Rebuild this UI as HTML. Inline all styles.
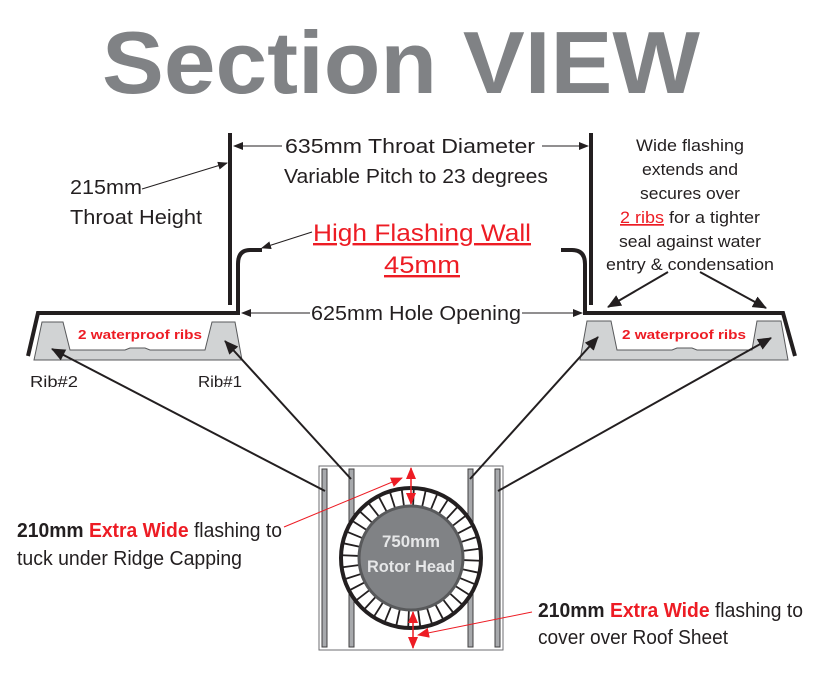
<!DOCTYPE html>
<html><head><meta charset="utf-8"><style>
html,body{margin:0;padding:0;background:#fff}
svg{display:block}
text{font-family:"Liberation Sans Narrow","Liberation Sans",sans-serif}
</style></head><body>
<svg width="825" height="682" viewBox="0 0 825 682" xmlns="http://www.w3.org/2000/svg">
<defs>
<marker id="ab" markerWidth="10" markerHeight="8" refX="9" refY="4" orient="auto" markerUnits="userSpaceOnUse"><path d="M0,0 L10,4 L0,8 Z" fill="#231f20"/></marker>
<marker id="abL" markerWidth="14" markerHeight="12" refX="13" refY="6" orient="auto" markerUnits="userSpaceOnUse"><path d="M0,0 L14,6 L0,12 Z" fill="#231f20"/></marker>
<marker id="ar" markerWidth="12" markerHeight="10" refX="11" refY="5" orient="auto" markerUnits="userSpaceOnUse"><path d="M0,0 L12,5 L0,10 Z" fill="#ed1c24"/></marker>
<marker id="ars" markerWidth="12" markerHeight="10" refX="1" refY="5" orient="auto" markerUnits="userSpaceOnUse"><path d="M12,0 L0,5 L12,10 Z" fill="#ed1c24"/></marker>
</defs>

<text x="102" y="93" font-size="88" font-weight="bold" fill="#808285" textLength="598" lengthAdjust="spacingAndGlyphs" style="font-family:'Liberation Sans',sans-serif">Section VIEW</text>

<!-- left wall & flashing -->
<line x1="230" y1="133" x2="230" y2="305" stroke="#231f20" stroke-width="4"/>
<path d="M262 250 L250 250 Q238 250 238 264 L238 313 L38 313 L28 356" fill="none" stroke="#231f20" stroke-width="4"/>
<path d="M42 322 L63 322 L70 350 L125 350 L130 348 L145 348 L150 350 L205 350 L212 322 L235 322 L242 360 L34 360 Z" fill="#d1d3d4" stroke="#58595b" stroke-width="1"/>
<text x="140" y="339" font-size="13" font-weight="bold" fill="#ed1c24" text-anchor="middle" textLength="124" lengthAdjust="spacingAndGlyphs">2 waterproof ribs</text>

<!-- right wall & flashing -->
<line x1="591" y1="133" x2="591" y2="305" stroke="#231f20" stroke-width="4"/>
<path d="M561 250 L572 250 Q585 250 585 264 L585 313 L783 313 L795 356" fill="none" stroke="#231f20" stroke-width="4"/>
<path d="M587 321 L611 321 L617 350 L672 350 L677 348 L692 348 L697 350 L752 350 L757 321 L781 321 L788 360 L580 360 Z" fill="#d1d3d4" stroke="#58595b" stroke-width="1"/>
<text x="684" y="339" font-size="13" font-weight="bold" fill="#ed1c24" text-anchor="middle" textLength="124" lengthAdjust="spacingAndGlyphs">2 waterproof ribs</text>

<!-- dimension arrows -->
<line x1="282" y1="146" x2="234" y2="146" stroke="#231f20" stroke-width="1" marker-end="url(#ab)"/>
<line x1="542" y1="146" x2="588" y2="146" stroke="#231f20" stroke-width="1" marker-end="url(#ab)"/>
<line x1="310" y1="313" x2="242" y2="313" stroke="#231f20" stroke-width="1" marker-end="url(#ab)"/>
<line x1="522" y1="313" x2="582" y2="313" stroke="#231f20" stroke-width="1" marker-end="url(#ab)"/>
<line x1="142" y1="189" x2="227" y2="163" stroke="#231f20" stroke-width="1" marker-end="url(#ab)"/>
<line x1="312" y1="232" x2="262" y2="248" stroke="#231f20" stroke-width="1" marker-end="url(#ab)"/>
<line x1="668" y1="272" x2="608" y2="307" stroke="#231f20" stroke-width="2" marker-end="url(#abL)"/>
<line x1="700" y1="272" x2="766" y2="308" stroke="#231f20" stroke-width="2" marker-end="url(#abL)"/>

<g fill="#231f20" font-size="20">
<text x="410" y="153" text-anchor="middle" textLength="250" lengthAdjust="spacingAndGlyphs">635mm Throat Diameter</text>
<text x="416" y="183" text-anchor="middle" textLength="264" lengthAdjust="spacingAndGlyphs">Variable Pitch to 23 degrees</text>
<text x="70" y="194" textLength="72" lengthAdjust="spacingAndGlyphs">215mm</text>
<text x="70" y="224" textLength="132" lengthAdjust="spacingAndGlyphs">Throat Height</text>
<text x="416" y="320" text-anchor="middle" textLength="210" lengthAdjust="spacingAndGlyphs">625mm Hole Opening</text>
<text x="30" y="387" font-size="16" textLength="48" lengthAdjust="spacingAndGlyphs">Rib#2</text>
<text x="198" y="387" font-size="16" textLength="44" lengthAdjust="spacingAndGlyphs">Rib#1</text>
</g>
<g fill="#ed1c24" font-size="24">
<text x="422" y="241" text-anchor="middle" textLength="218" lengthAdjust="spacingAndGlyphs" text-decoration="underline">High Flashing Wall</text>
<text x="422" y="273" text-anchor="middle" textLength="76" lengthAdjust="spacingAndGlyphs" text-decoration="underline">45mm</text>
</g>
<g fill="#231f20" font-size="17" text-anchor="middle">
<text x="690" y="151" textLength="108" lengthAdjust="spacingAndGlyphs">Wide flashing</text>
<text x="690" y="175" textLength="96" lengthAdjust="spacingAndGlyphs">extends and</text>
<text x="690" y="199" textLength="100" lengthAdjust="spacingAndGlyphs">secures over</text>
<text x="690" y="223" textLength="140" lengthAdjust="spacingAndGlyphs"><tspan fill="#ed1c24" text-decoration="underline">2 ribs</tspan> for a tighter</text>
<text x="690" y="247" textLength="142" lengthAdjust="spacingAndGlyphs">seal against water</text>
<text x="690" y="270" textLength="168" lengthAdjust="spacingAndGlyphs">entry &amp; condensation</text>
</g>

<!-- plan view box -->
<rect x="319" y="466" width="184" height="184" fill="#fff" stroke="#6d6e71" stroke-width="1"/>
<g fill="#a7a9ac" stroke="#414042" stroke-width="1">
<rect x="322" y="469" width="5" height="178"/>
<rect x="349" y="469" width="5" height="178"/>
<rect x="468" y="469" width="5" height="178"/>
<rect x="495" y="469" width="5" height="178"/>
</g>
<circle cx="411" cy="558" r="70" fill="#fff" stroke="#231f20" stroke-width="4"/>
<g id="spokes" stroke="#231f20" stroke-width="1.8"></g>
<circle cx="411" cy="558" r="52" fill="#808285" stroke="#58595b" stroke-width="3"/>
<text x="411" y="547" font-size="17" font-weight="bold" fill="#e6e7e8" text-anchor="middle" textLength="58" lengthAdjust="spacingAndGlyphs">750mm</text>
<text x="411" y="572" font-size="17" font-weight="bold" fill="#e6e7e8" text-anchor="middle" textLength="88" lengthAdjust="spacingAndGlyphs">Rotor Head</text>

<!-- long arrows -->
<line x1="325" y1="491" x2="52" y2="349" stroke="#231f20" stroke-width="2" marker-end="url(#abL)"/>
<line x1="351" y1="479" x2="225" y2="341" stroke="#231f20" stroke-width="2" marker-end="url(#abL)"/>
<line x1="470" y1="479" x2="598" y2="337" stroke="#231f20" stroke-width="2" marker-end="url(#abL)"/>
<line x1="498" y1="491" x2="771" y2="338" stroke="#231f20" stroke-width="2" marker-end="url(#abL)"/>

<!-- red arrows -->
<line x1="411" y1="468" x2="411" y2="504" stroke="#ed1c24" stroke-width="1.5" marker-start="url(#ars)" marker-end="url(#ar)"/>
<line x1="413" y1="612" x2="413" y2="648" stroke="#ed1c24" stroke-width="1.5" marker-start="url(#ars)" marker-end="url(#ar)"/>
<line x1="284" y1="527" x2="402" y2="478" stroke="#ed1c24" stroke-width="1" marker-end="url(#ar)"/>
<line x1="532" y1="612" x2="418" y2="635" stroke="#ed1c24" stroke-width="1" marker-end="url(#ar)"/>

<g font-size="20" fill="#231f20">
<text x="17" y="537" textLength="265" lengthAdjust="spacingAndGlyphs"><tspan font-weight="bold">210mm </tspan><tspan font-weight="bold" fill="#ed1c24">Extra Wide</tspan> flashing to</text>
<text x="17" y="565" textLength="225" lengthAdjust="spacingAndGlyphs">tuck under Ridge Capping</text>
<text x="538" y="617" textLength="265" lengthAdjust="spacingAndGlyphs"><tspan font-weight="bold">210mm </tspan><tspan font-weight="bold" fill="#ed1c24">Extra Wide</tspan> flashing to</text>
<text x="538" y="644" textLength="190" lengthAdjust="spacingAndGlyphs">cover over Roof Sheet</text>
</g>
</svg>
<script>
var g=document.getElementById('spokes'),s='';
for(var i=0;i<36;i++){var a=i*Math.PI*2/36+0.04;var c=Math.cos(a),n=Math.sin(a);
s+='<line x1="'+(411+52*c)+'" y1="'+(558+52*n)+'" x2="'+(411+69*c)+'" y2="'+(558+69*n)+'"/>';}
g.innerHTML=s;
</script>
</body></html>
